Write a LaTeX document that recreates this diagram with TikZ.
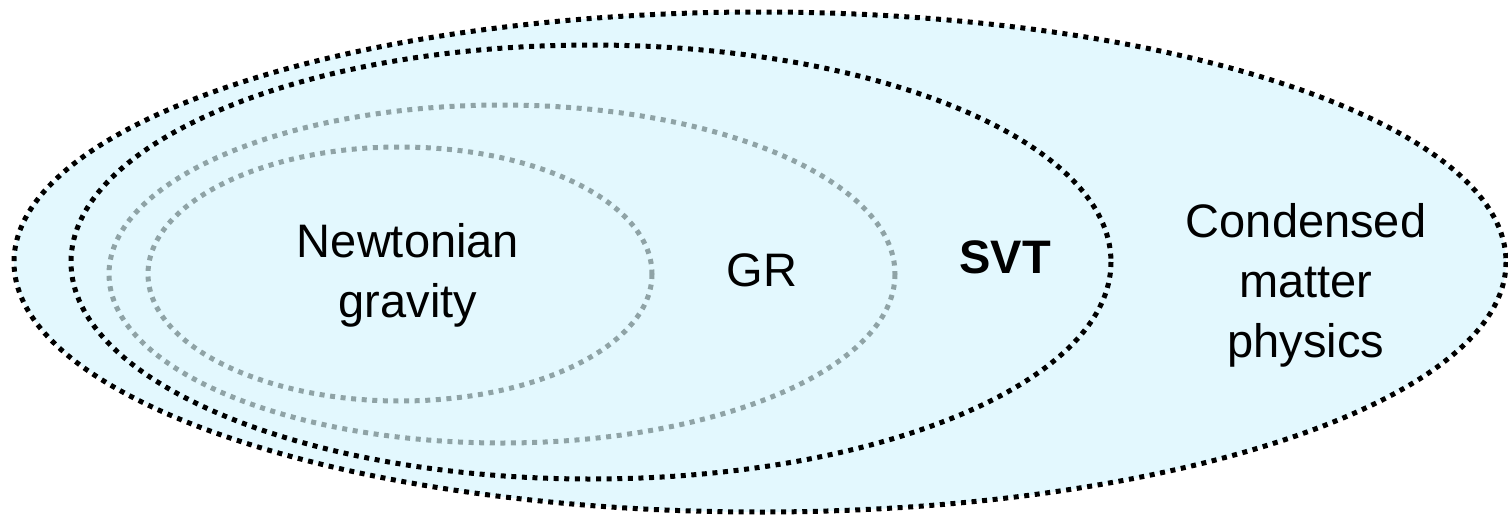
\documentclass[tikz,border=0pt]{standalone}
\usepackage{fontspec}
\setmainfont{Liberation Sans}
\definecolor{setfill}{RGB}{227,248,254}
\definecolor{innergray}{RGB}{143,163,166}
\begin{document}
\begin{tikzpicture}[x=1pt,y=-1pt,
  setline/.style={line width=5pt, dash pattern=on 5pt off 5.6pt},
  outerset/.style={setline, draw=black, fill=setfill},
  innerset/.style={setline, draw=innergray},
  lbl/.style={align=center, font=\fontsize{47}{60}\selectfont}]
  \useasboundingbox (0,0) rectangle (1508,517);
  % nested sets
  \draw[outerset] (760,262) ellipse [x radius=746, y radius=250];
  \draw[outerset] (591,262) ellipse [x radius=520, y radius=217];
  \draw[innerset] (502,274) ellipse [x radius=393, y radius=169];
  \draw[innerset] (400,274) ellipse [x radius=252, y radius=127];
  % labels
  \node[lbl] (newton) at (408,275) {Newtonian\\gravity};
  \node[lbl] (gr) at (762,270) {GR};
  \node[lbl, font=\fontsize{47}{60}\selectfont\bfseries] (svt) at (1005,257) {SVT};
  \node[lbl] (cmp) at (1306,285) {Condensed\\matter\\physics};
\end{tikzpicture}
\end{document}
